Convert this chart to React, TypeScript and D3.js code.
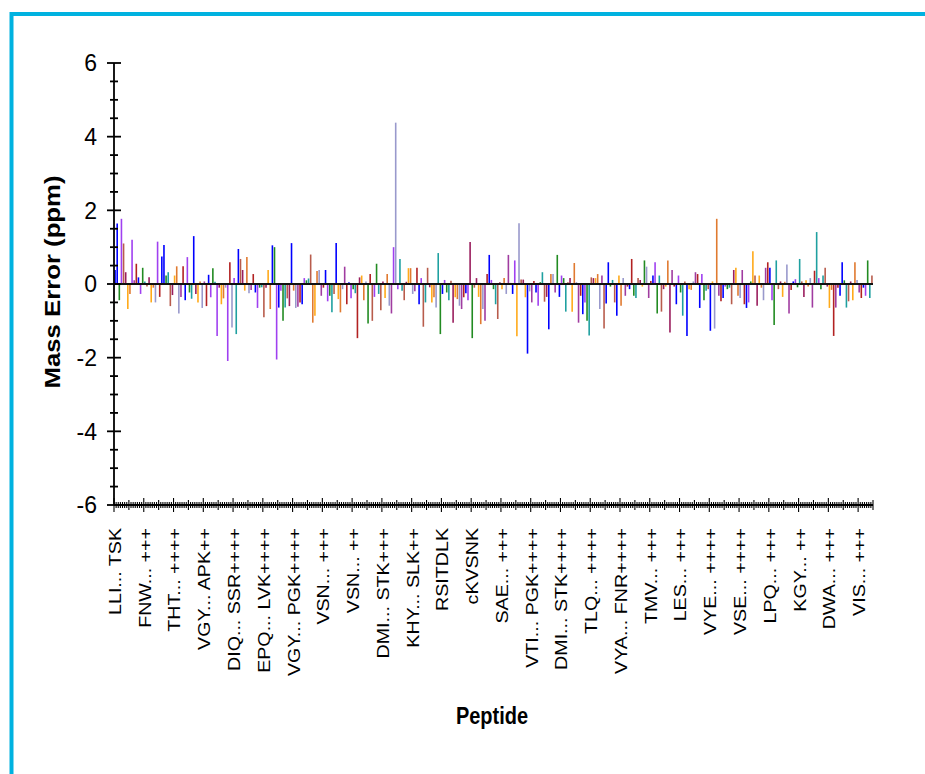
import * as d3 from "d3";

// mass error (ppm) per peptide, read left to right
const errorsA = [
  0.38, 1.64, -0.44, 1.77, 1.1, 0.32, -0.68, -0.27, 1.2, 0.1,
  0.55, 0.18, -0.27, 0.44, 0.07, -0.07, 0.18, -0.5, -0.1, -0.5,
  1.15, -0.35, 0.75, 1.06, 0.23, 0.32, -0.6, -0.3, 0.23, 0.48,
  -0.8, -0.35, 0.48, -0.44, 0.73, -0.23, -0.4, 1.3, -0.27, -0.5,
  0.07, -0.65, 0.07, -0.6, 0.25, -0.36, 0.43, 0.06, -1.41, -0.1,
  -0.55, -0.39, -0.1, -2.09, 0.59, -1.18, 0.16, -1.36, 0.95, 0.68,
  0.38, -0.18, 0.73, -0.25, -0.16, 0.27, -0.23, -0.65, -0.1, -0.09,
  -0.9, -0.1, 0.38, -0.68, 1.05, 1.0, -2.05, -0.64, -0.18, -1.0,
  -0.64, -0.39, -0.6, 1.11, -0.18, -0.65, -0.62, -0.5, -0.55, 0.16,
  0.1, 0.15, 0.8, -1.05, -0.86, 0.35, 0.38, -0.32, -0.1, 0.38,
  -0.47, -0.32, -0.77, -0.27, 1.11, -0.41, -0.77, -0.14, 0.47, -0.55,
];
const errorsB = [
  0.05, -0.39, -0.14, -0.25, -1.47, 0.18, 0.23, -0.44, 0.07, -1.07,
  0.27, -1.0, -0.35, 0.55, -0.27, -0.71, 0.07, -0.38, 0.27, -0.59,
  -0.8, 1.0, 4.38, -0.14, 0.68, -0.18, -0.44, 0.06, 0.43, 0.43,
  -0.27, -0.2, 0.44, -0.55, 0.16, -1.16, -0.5, 0.44, -0.09, -0.5,
  -0.36, -0.64, 0.84, -1.36, -0.27, 0.11, -0.23, -0.44, 0.09, -1.05,
  -0.36, -0.41, -0.59, -0.68, -0.36, -0.25, -0.44, 1.14, -1.47, -0.1,
  0.16, -0.35, -1.09, -0.68, -1.0, 0.27, 0.79, 0.11, -0.14, -0.55,
  -0.95, 0.05, -0.14, 0.16, -0.27, 0.79, 0.03, -0.27, 0.64, -1.42,
  1.65, 0.12, 0.12, -0.36, -1.89, -0.2, -0.5, 0.08, -0.23, -0.59,
  0.05, 0.32, -0.48, -0.35, -1.23, 0.27, 0.27, -0.23, 0.79, -0.35,
  0.23, 0.16, -0.75, 0.05, 0.16, -0.75, 0.57, 0.05, -1.05, -0.32,
  -0.82, -0.5, -1.0, -1.4,
];
const errorsC = [
  0.18, 0.16, 0.16, 0.27, -0.68, 0.23, -1.21, -0.53, 0.59, -0.07,
  0.11, -0.5, -0.86, 0.23, -0.59, 0.16, -0.32, -0.07, -0.14, 0.68,
  -0.32, -0.38, 0.16, 0.11, -0.07, 0.64, 0.47, -0.38, 0.08, 0.23,
  0.59, -0.8, 0.23, -0.75, -0.14, -0.07, 0.64, -1.32, 0.38, -0.07,
  -0.55, 0.23, -0.23, -0.86, 0.07, -1.41, -0.14, -0.16, 0.07, 0.32,
  0.27, -0.65, 0.27, -0.44, -0.18, -0.14, -1.27, 0.07, -1.21, 1.77,
  -0.32, -0.47, -0.38, -0.07, -0.14, -0.1, -0.55, 0.38, 0.44, -0.32,
  -0.38, 0.38, -0.55, -0.65, -0.5, 0.07, 0.89, 0.23, -0.59, 0.23,
  -0.1, -0.44, 0.44, 0.59, 0.44, -0.44, -1.11, 0.64, -0.14, 0.07,
  -0.35, 0.06, 0.53, -0.8, -0.16, 0.07, 0.13, -0.09, 0.68, 0.07,
  -0.35, 0.1, -0.07, 0.16, -0.64, 0.36, 1.41, 0.16, -0.14, 0.23,
  0.44, -0.07, -0.65, -0.16, -1.41, -0.64, -0.1, -0.32, 0.59, 0.1,
  -0.64, -0.47, 0.07, -0.44, 0.59, 0.11, -0.23, -0.38, -0.1, -0.32,
  0.64, -0.38, 0.23,
];

// one label every labelStep peptides
const peptideLabels = [
  "LLI... TSK", "FNW... +++", "THT... ++++", "VGY... APK++", "DIQ... SSR++++",
  "EPQ... LVK++++", "VGY... PGK++++", "VSN... +++", "VSN... ++", "DMI... STK+++",
  "KHY... SLK++", "RSITDLK", "cKVSNK", "SAE... +++", "VTI... PGK++++",
  "DMI... STK++++", "TLQ... ++++", "VYA... FNR++++", "TMV... +++", "LES... +++",
  "VYE... ++++", "VSE... ++++", "LPQ... +++", "KGY... ++", "DWA... +++", "VIS... +++",
];
const labelStep = 14;
const yTicks = [-6, -4, -2, 0, 2, 4, 6];

const colors: Record<string, string> = {
  blue: "#0000FF", purple: "#A040F0", green: "#228B22", teal: "#1FA0A0",
  brown: "#B85C4C", maroon: "#9A1E5E", gold: "#FFAA1A", orange: "#E07A30",
  lavender: "#9999CC", magenta: "#A03CA0", red: "#B22222",
};
const cycle = ["blue", "purple", "green", "teal", "brown", "maroon", "gold", "orange", "lavender", "magenta", "red"];
// colours of the bars that stand out in the original
const accents: Record<number, string> = {
  1: "blue", 3: "purple", 4: "brown", 8: "purple", 20: "purple", 23: "blue", 37: "blue",
  48: "purple", 53: "purple", 55: "lavender", 57: "teal", 58: "blue", 74: "blue", 75: "green",
  76: "purple", 83: "blue", 93: "orange", 104: "blue", 114: "red", 119: "green", 121: "brown",
  123: "green", 131: "purple", 132: "lavender", 134: "teal", 145: "brown", 152: "teal",
  153: "green", 167: "maroon", 168: "green", 189: "gold", 190: "lavender", 194: "blue",
  204: "blue", 208: "green", 230: "brown", 232: "blue", 236: "blue", 243: "red", 249: "green",
  261: "maroon", 269: "blue", 280: "blue", 282: "lavender", 283: "orange", 300: "gold",
  310: "green", 330: "teal", 338: "red", 342: "blue",
};

const font = "'Liberation Sans', Arial, sans-serif";
const stretch = 1.17; // the source picture is a bit taller than wide

export default function App() {
  const data = [...errorsA, ...errorsB, ...errorsC];
  const W = 925, H = 774;
  const left = 114, right = 873, top = 63, bottom = 505;

  const x = d3.scaleBand<number>().domain(d3.range(data.length)).range([left, right]);
  const y = d3.scaleLinear().domain([-6, 6]).range([bottom, top]);
  const bw = x.bandwidth();
  const minorY = d3.range(-6, 6.001, 0.5).filter(v => !yTicks.includes(v));
  const barColor = (i: number) => colors[accents[i] ?? cycle[i % cycle.length]];

  return (
    <svg width={W} height={H} style={{ position: "absolute", left: 0, top: 0, background: "#fff" }}>
      <rect x={11.5} y={14} width={1000} height={1000} fill="none" stroke="#00B2E0" strokeWidth={4} />

      {/* bars */}
      {data.map((v, i) => (
        <line key={i} x1={x(i)! + bw / 2} x2={x(i)! + bw / 2} y1={y(0)} y2={y(v)}
          stroke={barColor(i)} strokeWidth={1.6} />
      ))}

      {/* zero line */}
      <line x1={left} x2={right} y1={y(0)} y2={y(0)} stroke="#111" strokeWidth={2.2} />

      {/* y axis */}
      <line x1={left} x2={left} y1={y(6)} y2={y(-6)} stroke="#000" strokeWidth={1.8} />
      {yTicks.map(t => (
        <g key={t}>
          <line x1={left - 7} x2={left + 7} y1={y(t)} y2={y(t)} stroke="#000" strokeWidth={1.8} />
          <text x={left - 17} y={y(t)} dy="0.36em" textAnchor="end" fontFamily={font}
            fontSize={23} fill="#000">{t}</text>
        </g>
      ))}
      {minorY.map(t => (
        <line key={t} x1={left - 4} x2={left + 4} y1={y(t)} y2={y(t)} stroke="#000" strokeWidth={1.8} />
      ))}

      {/* x axis */}
      <line x1={left} x2={right} y1={bottom} y2={bottom} stroke="#000" strokeWidth={2} />
      {d3.range(data.length + 1).map(i => {
        const xx = i < data.length ? x(i)! : right;
        const len = i % labelStep === 0 ? 7 : i % 7 === 0 ? 5 : 3;
        return <line key={i} x1={xx} x2={xx} y1={bottom - len} y2={bottom + len} stroke="#000" strokeWidth={1.1} />;
      })}
      {peptideLabels.map((lab, k) => {
        const xx = x(k * labelStep)! + bw / 2;
        return (
          <text key={k} transform={`translate(${xx},528) scale(1,${stretch}) rotate(-90)`} dy="0.35em"
            textAnchor="end" fontFamily={font} fontSize={16.8} fill="#000">{lab}</text>
        );
      })}

      {/* titles */}
      <text transform={`translate(52,282) scale(1,${stretch}) rotate(-90)`} dy="0.35em" textAnchor="middle"
        fontFamily={font} fontSize={22} fontWeight="bold" fill="#000">Mass Error (ppm)</text>
      <text transform={`translate(492,716) scale(1,${stretch})`} dy="0.35em" textAnchor="middle"
        fontFamily={font} fontSize={20} fontWeight="bold" fill="#000">Peptide</text>
    </svg>
  );
}
